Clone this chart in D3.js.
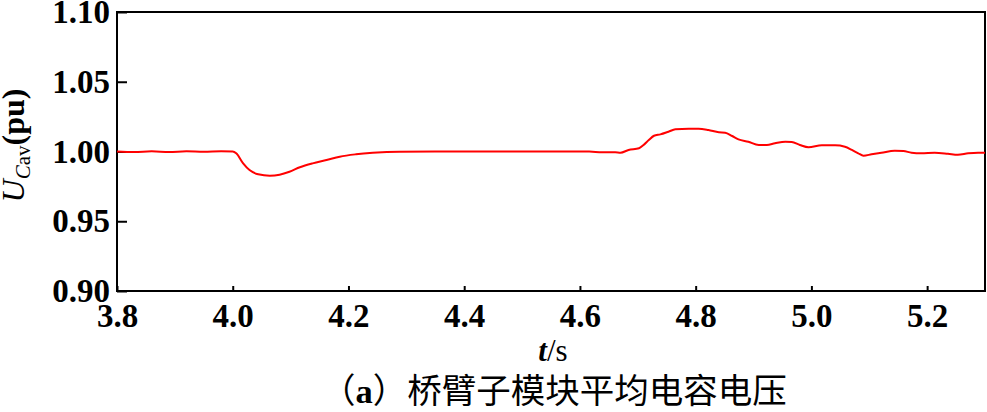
<!DOCTYPE html>
<html>
<head>
<meta charset="utf-8">
<script src="https://cdn.jsdelivr.net/npm/d3@7"></script>
<style>
  html, body { margin: 0; padding: 0; background: #fff; }
  svg { display: block; }
  svg text { font-family: 'Liberation Serif', serif; fill: #000; }
  .tick text { font-size: 33px; font-weight: bold; }
</style>
</head>
<body>
<script>
// time (s) and averaged SM capacitor voltage (pu)
var times = [3.80, 3.83, 3.86, 3.89, 3.92, 3.95, 3.98, 4.000, 4.006, 4.018, 4.029, 4.044, 4.064, 4.081, 4.098, 4.116, 4.138, 4.162, 4.185, 4.213, 4.242, 4.288, 4.40, 4.50, 4.616, 4.638, 4.661, 4.670, 4.684, 4.702, 4.710, 4.719, 4.728, 4.739, 4.753, 4.765, 4.788, 4.805, 4.822, 4.840, 4.851, 4.863, 4.874, 4.891, 4.909, 4.923, 4.937, 4.955, 4.966, 4.980, 4.995, 5.018, 5.041, 5.058, 5.070, 5.081, 5.090, 5.104, 5.121, 5.144, 5.159, 5.173, 5.190, 5.213, 5.236, 5.253, 5.271, 5.288, 5.300];
var ucav  = [1.0000, 0.9996, 1.0001, 0.9997, 1.0001, 0.9998, 1.0001, 1.0000, 0.9987, 0.9915, 0.9867, 0.9837, 0.9827, 0.9834, 0.9855, 0.9887, 0.9915, 0.9939, 0.9963, 0.9980, 0.9991, 0.9999, 1.0000, 1.0000, 1.0000, 0.9994, 0.9994, 0.9991, 1.0011, 1.0023, 1.0047, 1.0082, 1.0113, 1.0123, 1.0142, 1.0159, 1.0163, 1.0163, 1.0154, 1.0138, 1.0135, 1.0111, 1.0087, 1.0070, 1.0047, 1.0047, 1.0059, 1.0070, 1.0068, 1.0047, 1.0030, 1.0044, 1.0044, 1.0034, 1.0011, 0.9987, 0.9970, 0.9980, 0.9991, 1.0006, 1.0004, 0.9991, 0.9987, 0.9991, 0.9984, 0.9977, 0.9987, 0.9991, 0.9991];
var xTicks = [3.8, 4.0, 4.2, 4.4, 4.6, 4.8, 5.0, 5.2];
var yTicks = [0.90, 0.95, 1.00, 1.05, 1.10];

var W = 987, H = 412;
var m = { left: 117, right: 985, top: 12, bottom: 291 };

var svg = d3.select('body').append('svg')
  .attr('width', W).attr('height', H);

var x = d3.scaleLinear().domain([3.8, 5.3]).range([m.left, m.right]);
var y = d3.scaleLinear().domain([0.90, 1.10]).range([m.bottom, m.top]);

// bottom axis, ticks pointing inward
var xAxis = svg.append('g')
  .attr('transform', 'translate(0,' + m.bottom + ')')
  .call(d3.axisBottom(x).tickValues(xTicks).tickSizeInner(-5).tickSizeOuter(0).tickPadding(12).tickFormat(d3.format('.1f')));
xAxis.attr('font-family', null);
xAxis.select('.domain').remove();
xAxis.selectAll('.tick line').attr('stroke', '#000').attr('stroke-width', 2);
xAxis.selectAll('.tick text').attr('dy', '0.72em');

// left axis, ticks pointing inward
var yAxis = svg.append('g')
  .attr('transform', 'translate(' + m.left + ',0)')
  .call(d3.axisLeft(y).tickValues(yTicks).tickSizeInner(-10).tickSizeOuter(0).tickPadding(7).tickFormat(d3.format('.2f')));
yAxis.attr('font-family', null);
yAxis.select('.domain').remove();
yAxis.selectAll('.tick line').attr('stroke', '#000').attr('stroke-width', 2);

// frame
svg.append('rect')
  .attr('x', m.left).attr('y', m.top)
  .attr('width', m.right - m.left).attr('height', m.bottom - m.top)
  .attr('fill', 'none').attr('stroke', '#000').attr('stroke-width', 2);

// curve
var line = d3.line()
  .x(function(d, i) { return x(times[i]); })
  .y(function(d) { return y(d); })
  .curve(d3.curveMonotoneX);
svg.append('path')
  .datum(ucav)
  .attr('d', line)
  .attr('fill', 'none')
  .attr('stroke', '#ff0000')
  .attr('stroke-width', 2);

// y label
var yl = svg.append('text')
  .attr('transform', 'translate(24,' + ((m.top + m.bottom) / 2 - 6) + ') rotate(-90)')
  .attr('text-anchor', 'middle')
  .style('font-size', '32px')
  .style('font-weight', 'bold');
yl.append('tspan').style('font-style', 'italic').style('font-weight', 'normal').text('U');
yl.append('tspan').attr('dy', 6).style('font-size', '21px').style('font-style', 'italic').style('font-weight', 'normal').text('C');
yl.append('tspan').style('font-size', '21px').style('font-weight', 'normal').text('av');
yl.append('tspan').attr('dy', -6).text('(pu)');

// x label
var xl = svg.append('text')
  .attr('x', (m.left + m.right) / 2 + 2).attr('y', 361)
  .attr('text-anchor', 'middle')
  .style('font-size', '31px');
xl.append('tspan').style('font-style', 'italic').style('font-weight', 'bold').text('t');
xl.append('tspan').text('/s');

// caption
var cap = svg.append('text')
  .attr('x', 321).attr('y', 403)
  .attr('text-anchor', 'start')
  .style('font-family', "'Noto Sans CJK SC', sans-serif")
  .style('font-size', '34.5px');
cap.append('tspan').text('（');
cap.append('tspan').style('font-family', "'Liberation Serif', serif").style('font-weight', 'bold').text('a');
cap.append('tspan').text('）桥臂子模块平均电容电压');
</script>
</body>
</html>
